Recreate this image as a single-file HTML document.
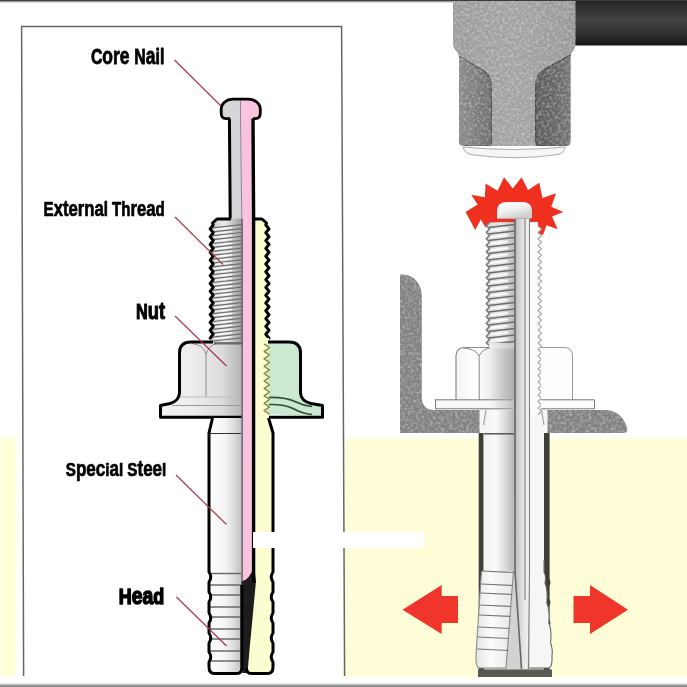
<!DOCTYPE html>
<html lang="en"><head><meta charset="utf-8"><title>Anchor bolt diagram</title>
<style>
html,body{margin:0;padding:0;background:#fff;}
body{width:687px;height:687px;overflow:hidden;font-family:"Liberation Sans",sans-serif;}
svg{display:block;}
.lbl{filter:grayscale(1);font-family:"Liberation Sans",sans-serif;font-weight:bold;fill:#000;stroke:#000;stroke-linejoin:round;}
.ld{stroke:#a83a48;stroke-width:1.2;fill:none;}
</style></head><body>
<svg width="687" height="687" viewBox="0 0 687 687">
<defs>
<linearGradient id="creamL" x1="0" x2="1" y1="0" y2="0"><stop offset="0" stop-color="#ffffea"/><stop offset="0.25" stop-color="#ffffd4"/><stop offset="0.7" stop-color="#ffffd8"/><stop offset="1" stop-color="#ffffff"/></linearGradient>
<linearGradient id="creamTop" x1="0" x2="0" y1="0" y2="1"><stop offset="0" stop-color="#ffffff"/><stop offset="1" stop-color="#fffdda"/></linearGradient>
<linearGradient id="handle" x1="0" x2="0" y1="0" y2="1"><stop offset="0" stop-color="#262626"/><stop offset="0.45" stop-color="#434343"/><stop offset="0.8" stop-color="#2a2a2a"/><stop offset="1" stop-color="#161616"/></linearGradient>
<linearGradient id="hamMain" x1="0" x2="1" y1="0" y2="0"><stop offset="0" stop-color="#9c9c9c"/><stop offset="0.5" stop-color="#a4a4a4"/><stop offset="1" stop-color="#989898"/></linearGradient>
<linearGradient id="hamL" x1="0" x2="1" y1="0" y2="0"><stop offset="0" stop-color="#8a8a8a"/><stop offset="0.5" stop-color="#7e7e7e"/><stop offset="1" stop-color="#6e6e6e"/></linearGradient>
<linearGradient id="hamR" x1="0" x2="1" y1="0" y2="0"><stop offset="0" stop-color="#5c5c5c"/><stop offset="0.6" stop-color="#686868"/><stop offset="1" stop-color="#767676"/></linearGradient>
<linearGradient id="thrL" x1="0" x2="1" y1="0" y2="0"><stop offset="0" stop-color="#c4c4c4"/><stop offset="0.45" stop-color="#ececec"/><stop offset="1" stop-color="#9c9c9c"/></linearGradient>
<linearGradient id="nutL" x1="0" x2="1" y1="0" y2="0"><stop offset="0" stop-color="#f2f2f2"/><stop offset="0.4" stop-color="#ececec"/><stop offset="0.75" stop-color="#dcdcdc"/><stop offset="1" stop-color="#b4b4b4"/></linearGradient>
<linearGradient id="slvL" x1="0" x2="1" y1="0" y2="0"><stop offset="0" stop-color="#ffffff"/><stop offset="0.5" stop-color="#f4f4f4"/><stop offset="0.8" stop-color="#d8d8d8"/><stop offset="1" stop-color="#bdbdbd"/></linearGradient>
<linearGradient id="thrR" x1="0" x2="1" y1="0" y2="0"><stop offset="0" stop-color="#d8d8d8"/><stop offset="0.5" stop-color="#e8e8e8"/><stop offset="1" stop-color="#b8b8b8"/></linearGradient>
<linearGradient id="nutR" x1="0" x2="1" y1="0" y2="0"><stop offset="0" stop-color="#f4f4f4"/><stop offset="0.35" stop-color="#ffffff"/><stop offset="0.7" stop-color="#e4e4e4"/><stop offset="1" stop-color="#c4c4c4"/></linearGradient>
<linearGradient id="slvR" x1="0" x2="1" y1="0" y2="0"><stop offset="0" stop-color="#f2f2f2"/><stop offset="0.4" stop-color="#fafafa"/><stop offset="0.75" stop-color="#d6d6d6"/><stop offset="1" stop-color="#b4b4b4"/></linearGradient>
<linearGradient id="slvR2" x1="0" x2="1" y1="0" y2="0"><stop offset="0" stop-color="#e4e4e4"/><stop offset="0.4" stop-color="#fbfbfb"/><stop offset="1" stop-color="#e6e6e6"/></linearGradient>
<linearGradient id="nailR" x1="0" x2="1" y1="0" y2="0"><stop offset="0" stop-color="#b8b8b8"/><stop offset="0.5" stop-color="#e0e0e0"/><stop offset="1" stop-color="#f4f4f4"/></linearGradient>
<linearGradient id="headR" x1="0" x2="0.6" y1="0" y2="1"><stop offset="0" stop-color="#ffffff"/><stop offset="0.5" stop-color="#f2f2f2"/><stop offset="1" stop-color="#cfcfcf"/></linearGradient>
<linearGradient id="shadeR" x1="0" x2="1" y1="0" y2="0"><stop offset="0" stop-color="#b0b0b0" stop-opacity="0"/><stop offset="1" stop-color="#a8a8a8" stop-opacity="0.75"/></linearGradient>
<filter id="grain" x="0" y="0" width="100%" height="100%" color-interpolation-filters="sRGB"><feTurbulence type="fractalNoise" baseFrequency="0.36" numOctaves="2" seed="7" result="n"/><feColorMatrix in="n" type="matrix" values="0 0 0 0 1  0 0 0 0 1  0 0 0 0 1  0.9 0 0 0 -0.38" result="a"/><feComposite in="a" in2="SourceGraphic" operator="in" result="m"/><feMerge><feMergeNode in="SourceGraphic"/><feMergeNode in="m"/></feMerge></filter>
</defs>
<rect x="0" y="0" width="687" height="687" fill="#ffffff"/>
<!-- cream concrete -->
<rect x="0" y="439" width="19" height="237" fill="url(#creamL)"/>
<rect x="0" y="436" width="19" height="3.5" fill="url(#creamL)" opacity="0.5"/>
<rect x="345" y="439.5" width="342" height="236.5" fill="#fffdd8"/>
<rect x="345" y="436" width="342" height="4" fill="url(#creamTop)"/>
<rect x="345" y="676" width="342" height="3" fill="#ffffee"/>
<!-- white label patch -->
<rect x="253" y="532" width="171" height="16" fill="#ffffff"/>
<!-- frame lines -->
<rect x="0" y="0" width="687" height="1.6" fill="#3c3c3c"/>
<rect x="0" y="1.6" width="687" height="1" fill="#bdbdbd"/>
<rect x="0" y="684.5" width="687" height="2.5" fill="#8e8e8e"/>
<rect x="0" y="683.5" width="687" height="1" fill="#c8c8c8"/>
<path d="M23.6,676 L21.6,26.4 L341.6,26.4 L344.6,676" fill="none" stroke="#666" stroke-width="1.5"/>
<!-- hammer -->
<rect x="574" y="1" width="113" height="44.5" fill="url(#handle)"/>
<g filter="url(#grain)">
<path d="M453,1 L575.5,1 L575.5,44 C575.5,50 571,51 570.5,57 L570.5,142 Q570.5,146 566,146 L463,146 Q459,146 459,142 L459,57 C458.5,51 453,50 453,44 Z" fill="url(#hamMain)"/>
<path d="M459,56 L484,71 Q491.5,76 491.5,88 L491.5,141 Q491.5,146 487,146 L464,146 Q459,146 459,141 Z" fill="url(#hamL)"/>
<path d="M570.5,55 L543,70 Q535.5,75 535.5,87 L535.5,141 Q535.5,146 540,146 L565.5,146 Q570.5,146 570.5,141 Z" fill="url(#hamR)"/>
<path d="M459,56 L484,71 Q491.5,76 491.5,88 L491.5,141 Q491.5,146 487,146 L464,146" fill="none" stroke="#444" stroke-width="1.1" opacity="0.8"/>
<path d="M570.5,55 L543,70 Q535.5,75 535.5,87 L535.5,141 Q535.5,146 540,146 L565.5,146" fill="none" stroke="#3c3c3c" stroke-width="1.1" opacity="0.8"/>
</g>
<path d="M463,147 Q464.5,153 471,154.5 Q514,161 558,154.5 Q564,153 565.5,147 Q540,149.5 514,149.5 Q488,149.5 463,147 Z" fill="#f6f6f6" stroke="#a0a0a0" stroke-width="0.9"/>
<!-- angle bracket -->
<path d="M400,433 L400,274.5 L404,274.5 C414,275.5 421.8,284 421.8,296 L421.8,397 Q421.8,410 435,410 L606,410 C617,410.5 625,418 627.3,429 Q627.8,433 623,433 Z" fill="#808284" filter="url(#grain)"/>
<!-- arrows -->
<path d="M402.5,609.7 L441.7,585 L441.7,596 L458,596 L458,623 L441.7,623 L441.7,634 Z" fill="#f0352a"/>
<path d="M628,609.7 L590,585 L590,596 L573.5,596 L573.5,623 L590,623 L590,634 Z" fill="#f0352a"/>
<!-- impact burst -->
<path d="M465.6,212 L477.6,204.4 L471.2,194.8 L484.8,197.2 L485.6,183.6 L497.6,190.8 L504,177.2 L512.8,188.4 L521.6,177.2 L528,190 L539.3,182.8 L542.5,198 L556,193.2 L551.3,206.8 L563.3,212 L552,216.4 L557.7,229.2 L546.5,225.2 L543,235 L537,233 L535,222 L489,223 L485.5,227.5 L480.8,219.6 L475.2,230Z" fill="#f0301f"/>
<!-- right bolt (installed) -->
<g>
<rect x="479.5" y="409" width="68" height="25" fill="#f6f6f6"/>
<rect x="478.5" y="433" width="71.5" height="244" fill="#d2d2d2"/>
<rect x="478.8" y="433" width="5" height="237" fill="#3e3e36"/>
<path d="M544,433 L549.5,433 L549.5,670 L544,670 Z" fill="#3e3e36"/>
<path d="M548,578 q4,4 0,9 M548,598 q4,4 0,9 M548,619 q4,4 0,9 M548,639 q4,4 0,9" fill="#3e3e36" stroke="#3e3e36" stroke-width="1"/>
<rect x="478" y="669.5" width="74" height="7.5" fill="#5a5a54"/>
<path d="M486,410 L483.5,425 L483.5,572 L513.5,572 L514.5,410 Z" fill="url(#slvR)"/>
<path d="M481.5,571 L476,655 Q475.5,667 479,668 L506,668 Q508,640 513.5,571 Z" fill="url(#slvR2)"/>
<path d="M529,410 L541.5,410 L544,425 L544,572 Q546.5,577 545,583 Q548,590 546.8,603 Q550,610 548.8,623 Q552,630 550.6,643 Q553,650 552,656 Q552.5,667 549,668 L529.5,668 Z" fill="#f6f6f6"/>
<path d="M544,560 L544,572 Q546.5,577 545,583 Q548,590 546.8,603 Q550,610 548.8,623 Q552,630 550.6,643 Q553,650 552,656 Q552.5,667 549,668 L529.5,668" fill="none" stroke="#6a6a64" stroke-width="1.1"/>
<path d="M489.5,222.5 L486.3,225.8 L489.5,229 L486.3,232.2 L489.5,235.5 L486.3,238.8 L489.5,242 L486.3,245.2 L489.5,248.5 L486.3,251.8 L489.5,255 L486.3,258.2 L489.5,261.5 L486.3,264.8 L489.5,268 L486.3,271.2 L489.5,274.5 L486.3,277.8 L489.5,281 L486.3,284.2 L489.5,287.5 L486.3,290.8 L489.5,294 L486.3,297.2 L489.5,300.5 L486.3,303.8 L489.5,307 L486.3,310.2 L489.5,313.5 L486.3,316.8 L489.5,320 L486.3,323.2 L489.5,326.5 L486.3,329.8 L489.5,333 L486.3,336.2 L489.5,339.5 L486.3,342.8 L489.5,346 L515,347 L515,222 Z" fill="url(#thrR)"/>
<path d="M488.5,227.6 L514.5,224.4 M488.5,234.1 L514.5,230.9 M488.5,240.6 L514.5,237.4 M488.5,247.1 L514.5,243.9 M488.5,253.6 L514.5,250.4 M488.5,260.1 L514.5,256.9 M488.5,266.6 L514.5,263.4 M488.5,273.1 L514.5,269.9 M488.5,279.6 L514.5,276.4 M488.5,286.1 L514.5,282.9 M488.5,292.6 L514.5,289.4 M488.5,299.1 L514.5,295.9 M488.5,305.6 L514.5,302.4 M488.5,312.1 L514.5,308.9 M488.5,318.6 L514.5,315.4 M488.5,325.1 L514.5,321.9 M488.5,331.6 L514.5,328.4 M488.5,338.1 L514.5,334.9 M488.5,344.6 L514.5,341.4" stroke="#6c6c6c" stroke-width="1.5" fill="none"/>
<path d="M490,230.6 L508,228.4 M490,237.1 L508,234.9 M490,243.6 L508,241.4 M490,250.1 L508,247.9 M490,256.6 L508,254.4 M490,263.1 L508,260.9 M490,269.6 L508,267.4 M490,276.1 L508,273.9 M490,282.6 L508,280.4 M490,289.1 L508,286.9 M490,295.6 L508,293.4 M490,302.1 L508,299.9 M490,308.6 L508,306.4 M490,315.1 L508,312.9 M490,321.6 L508,319.4 M490,328.1 L508,325.9 M490,334.6 L508,332.4 M490,341.1 L508,338.9" stroke="#ffffff" stroke-width="1.6" fill="none" opacity="0.9"/>
<path d="M489.5,222.5 L486.3,225.8 L489.5,229 L486.3,232.2 L489.5,235.5 L486.3,238.8 L489.5,242 L486.3,245.2 L489.5,248.5 L486.3,251.8 L489.5,255 L486.3,258.2 L489.5,261.5 L486.3,264.8 L489.5,268 L486.3,271.2 L489.5,274.5 L486.3,277.8 L489.5,281 L486.3,284.2 L489.5,287.5 L486.3,290.8 L489.5,294 L486.3,297.2 L489.5,300.5 L486.3,303.8 L489.5,307 L486.3,310.2 L489.5,313.5 L486.3,316.8 L489.5,320 L486.3,323.2 L489.5,326.5 L486.3,329.8 L489.5,333 L486.3,336.2 L489.5,339.5 L486.3,342.8 L489.5,346" fill="none" stroke="#7a7a7a" stroke-width="1.6" stroke-linejoin="round"/>
<path d="M531,222 L538,222 L538,226 L541.5,229.2 L538,232.5 L541.5,235.8 L538,239 L541.5,242.2 L538,245.5 L541.5,248.8 L538,252 L541.5,255.2 L538,258.5 L541.5,261.8 L538,265 L541.5,268.2 L538,271.5 L541.5,274.8 L538,278 L541.5,281.2 L538,284.5 L541.5,287.8 L538,291 L541.5,294.2 L538,297.5 L541.5,300.8 L538,304 L541.5,307.2 L538,310.5 L541.5,313.8 L538,317 L541.5,320.2 L538,323.5 L541.5,326.8 L538,330 L541.5,333.2 L538,336.5 L541.5,339.8 L538,343 L541.5,346.2 L538,349.5 L541.5,352.8 L538,356 L541.5,359.2 L538,362.5 L541.5,365.8 L538,369 L541.5,372.2 L538,375.5 L541.5,378.8 L538,382 L541.5,385.2 L538,388.5 L541.5,391.8 L538,395 L541.5,398.2 L538,401.5 L541.5,404.8 L538,408 L541.5,411.2 L538,414.5 L531,415 Z" fill="#fcfcfc"/>
<path d="M538,226 L541.5,229.2 L538,232.5 L541.5,235.8 L538,239 L541.5,242.2 L538,245.5 L541.5,248.8 L538,252 L541.5,255.2 L538,258.5 L541.5,261.8 L538,265 L541.5,268.2 L538,271.5 L541.5,274.8 L538,278 L541.5,281.2 L538,284.5 L541.5,287.8 L538,291 L541.5,294.2 L538,297.5 L541.5,300.8 L538,304 L541.5,307.2 L538,310.5 L541.5,313.8 L538,317 L541.5,320.2 L538,323.5 L541.5,326.8 L538,330 L541.5,333.2 L538,336.5 L541.5,339.8 L538,343 L541.5,346.2 L538,349.5 L541.5,352.8 L538,356 L541.5,359.2 L538,362.5 L541.5,365.8 L538,369 L541.5,372.2 L538,375.5 L541.5,378.8 L538,382 L541.5,385.2 L538,388.5 L541.5,391.8 L538,395 L541.5,398.2 L538,401.5 L541.5,404.8 L538,408 L541.5,411.2 L538,414.5" fill="none" stroke="#a6a6a6" stroke-width="1.1" stroke-linejoin="round"/>
<path d="M456,400 L456,356 Q456,347.5 465,347.5 L489,347.5 L489,343 L515,343 L515,400 Z" fill="url(#nutR)"/>
<path d="M456,400 L456,356 Q456,347.5 465,347.5 L489,347.5" fill="none" stroke="#8c8c8c" stroke-width="1.2"/>
<path d="M463,347.8 Q476,349 479.2,356 L479.2,400 M479.2,356 Q482,349.5 490,347.8" fill="none" stroke="#8a8a8a" stroke-width="1"/>
<path d="M541,347.5 L564,347.5 Q572.5,347.5 572.5,356 L572.5,400 L541,400 Z" fill="#fdfdfd"/>
<path d="M541,347.5 L564,347.5 Q572.5,347.5 572.5,356 L572.5,400" fill="none" stroke="#9a9a9a" stroke-width="1"/>
<rect x="435.5" y="399.8" width="79.5" height="9" fill="#f8f8f8" stroke="#777" stroke-width="1"/>
<path d="M541,399.8 L594.5,399.8 L594.5,408.8 L541,408.8" fill="#fcfcfc" stroke="#777" stroke-width="1"/>
<rect x="490" y="348.5" width="25" height="60.5" fill="url(#shadeR)"/>
<path d="M514.5,218 L529.5,218 L529.5,572 L527.5,669 L521.5,669 L514.5,572 Z" fill="url(#nailR)"/>
<path d="M515,218 L515,572 L521.5,669" stroke="#666" stroke-width="1.6" fill="none"/>
<path d="M525,218 L525,600 M529.5,218 L529.5,572 L528.5,669" stroke="#808080" stroke-width="1.1" fill="none"/>
<path d="M497,218 L497,211 Q497,202 507,202 L522,202 Q532,202 532,211 L532,218 Z" fill="url(#headR)"/>
<path d="M497,218.5 L531,218.5" stroke="#b0b0b0" stroke-width="1"/>
<path d="M486,410 L483.5,425" fill="none" stroke="#9a9a9a" stroke-width="1.1"/>
<path d="M484,433.8 L514,433.8" stroke="#555" stroke-width="1.5"/>
<path d="M541.5,410 L544,425" fill="none" stroke="#9a9a9a" stroke-width="1.1"/>
<path d="M481.5,571 L476,655 Q475.5,667 479,668 L506,668 Q508,640 513.5,571" fill="none" stroke="#8a8a8a" stroke-width="1.1"/>
<path d="M481.5,571 L513.5,572.5 M480.8,584 L512.6,585.5 M480.3,593 L512,594.5 M479.6,605 L511.2,606.5 M479,615 L510.6,616.5 M478.3,627 L509.7,628.5 M477.8,637 L509.1,638.5 M477.1,649 L508.3,650.5" stroke="#777" stroke-width="1.2" fill="none"/>
</g>
<!-- left bolt (cut-away) -->
<g>
<path d="M229,117 L240.5,117 L241.8,218 L241.8,222 L230,222 Z" fill="#d4d4d6"/>
<path d="M240.5,117 L252.5,117 L253.5,218 L253.5,582 L242.2,582 L242.2,218 Z" fill="#f9c3de"/>
<path d="M216,218.5 L241.8,218.5 L241.8,344 L213,344 L210.2,338.1 L213.2,334.2 L210.2,330.3 L213.2,326.4 L210.2,322.5 L213.2,318.6 L210.2,314.7 L213.2,310.8 L210.2,306.9 L213.2,303 L210.2,299.1 L213.2,295.2 L210.2,291.3 L213.2,287.4 L210.2,283.5 L213.2,279.6 L210.2,275.7 L213.2,271.8 L210.2,267.9 L213.2,264 L210.2,260.1 L213.2,256.2 L210.2,252.3 L213.2,248.4 L210.2,244.5 L213.2,240.6 L210.2,236.7 L213.2,232.8 L210.2,228.9 L213.2,225 Z" fill="url(#thrL)"/>
<path d="M213,227.9 L241.5,224.7 M213,231.8 L241.5,228.6 M213,235.7 L241.5,232.5 M213,239.6 L241.5,236.4 M213,243.5 L241.5,240.3 M213,247.4 L241.5,244.2 M213,251.3 L241.5,248.1 M213,255.2 L241.5,252 M213,259.1 L241.5,255.9 M213,263 L241.5,259.8 M213,266.9 L241.5,263.7 M213,270.8 L241.5,267.6 M213,274.7 L241.5,271.5 M213,278.6 L241.5,275.4 M213,282.5 L241.5,279.3 M213,286.4 L241.5,283.2 M213,290.3 L241.5,287.1 M213,294.2 L241.5,291 M213,298.1 L241.5,294.9 M213,302 L241.5,298.8 M213,305.9 L241.5,302.7 M213,309.8 L241.5,306.6 M213,313.7 L241.5,310.5 M213,317.6 L241.5,314.4 M213,321.5 L241.5,318.3 M213,325.4 L241.5,322.2 M213,329.3 L241.5,326.1 M213,333.2 L241.5,330 M213,337.1 L241.5,333.9 M213,341 L241.5,337.8" stroke="#6e6e6e" stroke-width="1.25" fill="none"/>
<path d="M214,229.6 L232,227.6 M214,233.5 L232,231.5 M214,237.4 L232,235.4 M214,241.3 L232,239.3 M214,245.2 L232,243.2 M214,249.1 L232,247.1 M214,253 L232,251 M214,256.9 L232,254.9 M214,260.8 L232,258.8 M214,264.7 L232,262.7 M214,268.6 L232,266.6 M214,272.5 L232,270.5 M214,276.4 L232,274.4 M214,280.3 L232,278.3 M214,284.2 L232,282.2 M214,288.1 L232,286.1 M214,292 L232,290 M214,295.9 L232,293.9 M214,299.8 L232,297.8 M214,303.7 L232,301.7 M214,307.6 L232,305.6 M214,311.5 L232,309.5 M214,315.4 L232,313.4 M214,319.3 L232,317.3 M214,323.2 L232,321.2 M214,327.1 L232,325.1 M214,331 L232,329 M214,334.9 L232,332.9 M214,338.8 L232,336.8" stroke="#ffffff" stroke-width="1.1" fill="none" opacity="0.85"/>
<path d="M254,218.5 L262,218.5 L265.8,225 L269,228.9 L265.8,232.8 L269,236.7 L265.8,240.6 L269,244.5 L265.8,248.4 L269,252.3 L265.8,256.2 L269,260.1 L265.8,264 L269,267.9 L265.8,271.8 L269,275.7 L265.8,279.6 L269,283.5 L265.8,287.4 L269,291.3 L265.8,295.2 L269,299.1 L265.8,303 L269,306.9 L265.8,310.8 L269,314.7 L265.8,318.6 L269,322.5 L265.8,326.4 L269,330.3 L265.8,334.2 L269,338.1 L254,341 Z" fill="#fdfdd2"/>
<path d="M229.8,219 L217,219 L212.5,223 L213.2,225 L210.2,228.9 L213.2,232.8 L210.2,236.7 L213.2,240.6 L210.2,244.5 L213.2,248.4 L210.2,252.3 L213.2,256.2 L210.2,260.1 L213.2,264 L210.2,267.9 L213.2,271.8 L210.2,275.7 L213.2,279.6 L210.2,283.5 L213.2,287.4 L210.2,291.3 L213.2,295.2 L210.2,299.1 L213.2,303 L210.2,306.9 L213.2,310.8 L210.2,314.7 L213.2,318.6 L210.2,322.5 L213.2,326.4 L210.2,330.3 L213.2,334.2 L210.2,338.1" fill="none" stroke="#000" stroke-width="3" stroke-linejoin="round" stroke-linecap="round"/>
<path d="M254,219 L262,219 L266.5,223 L265.8,225 L269,228.9 L265.8,232.8 L269,236.7 L265.8,240.6 L269,244.5 L265.8,248.4 L269,252.3 L265.8,256.2 L269,260.1 L265.8,264 L269,267.9 L265.8,271.8 L269,275.7 L265.8,279.6 L269,283.5 L265.8,287.4 L269,291.3 L265.8,295.2 L269,299.1 L265.8,303 L269,306.9 L265.8,310.8 L269,314.7 L265.8,318.6 L269,322.5 L265.8,326.4 L269,330.3 L265.8,334.2 L269,338.1" fill="none" stroke="#000" stroke-width="3" stroke-linejoin="round" stroke-linecap="round"/>
<path d="M180,394 L180,353 Q180,342.5 191,342.5 L241.8,342.5 L241.8,417 L161,417 L161,405.5 L170,403.5 Q179,401 180,394 Z" fill="url(#nutL)"/>
<path d="M192,343.5 Q204,345 206,354 L206,397 M206,354 Q208.5,346 216,343.5" fill="none" stroke="#8e8e8e" stroke-width="1"/>
<path d="M214,343.3 L241.5,343.3" stroke="#4a4a4a" stroke-width="2.4" opacity="0.75" fill="none"/>
<path d="M181,397 L241,397" stroke="#bdbdbd" stroke-width="1" fill="none"/>
<path d="M172,405.5 L241,405.5" stroke="#9a9a9a" stroke-width="1" fill="none"/>
<path d="M213,342 L191,342 Q179.5,342 179.5,353 L179.5,393 Q179,401 170,403.5 L160.5,405.5 L160.5,417.3 L241.8,417.3" fill="none" stroke="#000" stroke-width="3" stroke-linejoin="round"/>
<path d="M264,344 L269.5,347.7 L264,351.4 L269.5,355.1 L264,358.8 L269.5,362.5 L264,366.2 L269.5,369.9 L264,373.6 L269.5,377.3 L264,381 L269.5,384.7 L264,388.4 L269.5,392.1 L264,395.8 L269.5,399.5 L264,403.2 L269.5,406.9 L264,410.6 L269.5,414.3 L322,416.5 L322,405.5 L311,403.5 Q301,401 300,394 L300,353 Q300,342.5 289,342.5 L266,342.5 Z" fill="#cbe9d0"/>
<path d="M255,338 L269,338 L269,343.5 L264,344 L269.5,347.7 L264,351.4 L269.5,355.1 L264,358.8 L269.5,362.5 L264,366.2 L269.5,369.9 L264,373.6 L269.5,377.3 L264,381 L269.5,384.7 L264,388.4 L269.5,392.1 L264,395.8 L269.5,399.5 L264,403.2 L269.5,406.9 L264,410.6 L269.5,414.3 L269.5,416.5 L269.5,421 L255,421 Z" fill="#fdfdd2"/>
<path d="M264,344 L269.5,347.7 L264,351.4 L269.5,355.1 L264,358.8 L269.5,362.5 L264,366.2 L269.5,369.9 L264,373.6 L269.5,377.3 L264,381 L269.5,384.7 L264,388.4 L269.5,392.1 L264,395.8 L269.5,399.5 L264,403.2 L269.5,406.9 L264,410.6 L269.5,414.3" fill="none" stroke="#7d7d24" stroke-width="1.2" stroke-linejoin="round"/>
<path d="M269,397.5 Q285,397 296,402 Q304,406 312,406.5" fill="none" stroke="#2f4c34" stroke-width="1.7"/>
<path d="M269,404.5 Q284,404 293,408.5 Q302,413.5 312,414.5" fill="none" stroke="#2f4c34" stroke-width="1.6"/>
<path d="M268,342 L289,342 Q300.5,342 300.5,353 L300.5,393 Q301,401 311,403.5 L322.5,405.5 L322.5,417.3 L269,417.3" fill="none" stroke="#000" stroke-width="3" stroke-linejoin="round"/>
<path d="M212.5,418 L209,433 L209,572 L209,572 Q212.5,577 209,582 L209,592 Q212.5,597 209,602 L209,613 Q212.5,618 209,623 L209,633 Q212.5,638 209,643 L209,652 Q212.5,657 209,662 L209,668  Q209,673 214,673 L241.8,673 L241.8,418 Z" fill="url(#slvL)"/>
<path d="M210,573.5 L241,573.5 M210,585 L241,585 M210,595 L241,595 M210,607 L241,607 M210,617 L241,617 M210,629 L241,629 M210,639 L241,639 M210,651 L241,651 M210,661 L241,661" stroke="#6a6a6a" stroke-width="1.5" fill="none"/>
<path d="M210,433.5 L241,433.5" stroke="#333" stroke-width="1" fill="none"/>
<path d="M256,418 L268.5,418 L273,433 L273,572 L273,572 Q269.5,577 273,582 L273,592 Q269.5,597 273,602 L273,613 Q269.5,618 273,623 L273,633 Q269.5,638 273,643 L273,652 Q269.5,657 273,662 L273,668  Q273,673 268,673 L248,673 L249,640 L255,581 Z" fill="#fdfdd2"/>
<path d="M241.5,581 Q250,580 254,566 L256,581 L249.5,650 L247.5,673 L243,673 Z" fill="#1c1c1c"/>
<path d="M242.5,560 L252.5,560 L252.5,566 Q250,579 242.5,581 Z" fill="#f9c3de"/>
<path d="M242.1,219 L242.1,673" stroke="#3a3a3a" stroke-width="1.1" fill="none"/>
<path d="M253,118 L253.6,218 L253.6,583" stroke="#000" stroke-width="3.4" fill="none"/>
<path d="M229.4,118 L230.2,218" stroke="#000" stroke-width="3" fill="none"/>
<path d="M240.5,118 L241.8,219" stroke="#8a8a8a" stroke-width="1" fill="none"/>
<path d="M212.5,418 L209,433 L209,572 L209,572 Q212.5,577 209,582 L209,592 Q212.5,597 209,602 L209,613 Q212.5,618 209,623 L209,633 Q212.5,638 209,643 L209,652 Q212.5,657 209,662 L209,667  Q209,673.5 214.5,673.5 L237,673.5 Q241.8,673.5 241.8,668 L241.8,585" fill="none" stroke="#000" stroke-width="3" stroke-linejoin="round"/>
<path d="M268.5,418 L273,433 L273,572 L273,572 Q269.5,577 273,582 L273,592 Q269.5,597 273,602 L273,613 Q269.5,618 273,623 L273,633 Q269.5,638 273,643 L273,652 Q269.5,657 273,662 L273,667  Q273,673.5 267.5,673.5 L251,673.5 Q246.5,673.5 246.5,668" fill="none" stroke="#000" stroke-width="3" stroke-linejoin="round"/>
<path d="M221.2,112 L221.2,109 C221.2,104 226,99.2 233,99.2 L240.5,99.2 L240.5,118.6 L226,118.6 Q221.2,118.6 221.2,113 Z" fill="#d6d6d8"/>
<path d="M240.5,99.2 L248.5,99.2 C255.5,99.2 260.3,104 260.3,109 L260.3,113 Q260.3,118.6 255.5,118.6 L240.5,118.6 Z" fill="#fac5df"/>
<path d="M240.5,100 L240.5,119" stroke="#8a8a8a" stroke-width="1" fill="none"/>
<path d="M230,118.6 L226,118.6 Q221.2,118.6 221.2,113 L221.2,109 C221.2,104 226,99.2 233,99.2 L248.5,99.2 C255.5,99.2 260.3,104 260.3,109 L260.3,113 Q260.3,118.6 255.5,118.6 L253,118.6" fill="none" stroke="#000" stroke-width="2.8" stroke-linejoin="round"/>
</g>
<rect x="253" y="532" width="171" height="16" fill="#ffffff"/>
<!-- leader lines -->
<path class="ld" d="M174.5,60 L221,106"/>
<path class="ld" d="M175,217 L223,264.5"/>
<path class="ld" d="M175,316 L226.5,366"/>
<path class="ld" d="M176,475 L226.5,524.5"/>
<path class="ld" d="M176.5,597 L226.5,646"/>
<!-- labels -->
<text class="lbl" aria-label="Core Nail" x="90.9" y="63.7" stroke-width="0.8" textLength="73.4" lengthAdjust="spacingAndGlyphs"><tspan font-size="21.2">C</tspan><tspan font-size="23.3">ore </tspan><tspan font-size="21.2">N</tspan><tspan font-size="23.3">a</tspan><tspan font-size="21.2">il</tspan></text>
<text class="lbl" aria-label="External Thread" x="43.6" y="215.6" stroke-width="0.7" textLength="121.2" lengthAdjust="spacingAndGlyphs"><tspan font-size="19.7">E</tspan><tspan font-size="21.8">xterna</tspan><tspan font-size="19.7">l Th</tspan><tspan font-size="21.8">rea</tspan><tspan font-size="19.7">d</tspan></text>
<text class="lbl" aria-label="Nut" x="135.9" y="319.3" stroke-width="1.1" textLength="29.1" lengthAdjust="spacingAndGlyphs"><tspan font-size="21.8">N</tspan><tspan font-size="24.5">ut</tspan></text>
<text class="lbl" aria-label="Special Steel" x="65.8" y="475.9" stroke-width="0.7" textLength="100.5" lengthAdjust="spacingAndGlyphs"><tspan font-size="19.1">S</tspan><tspan font-size="21.4">pec</tspan><tspan font-size="19.1">i</tspan><tspan font-size="21.4">a</tspan><tspan font-size="19.1">l S</tspan><tspan font-size="21.4">tee</tspan><tspan font-size="19.1">l</tspan></text>
<text class="lbl" aria-label="Head" x="118.8" y="604.4" stroke-width="1.5" textLength="45.3" lengthAdjust="spacingAndGlyphs"><tspan font-size="21.4">H</tspan><tspan font-size="23.1">ea</tspan><tspan font-size="21.4">d</tspan></text>
</svg>
</body></html>
